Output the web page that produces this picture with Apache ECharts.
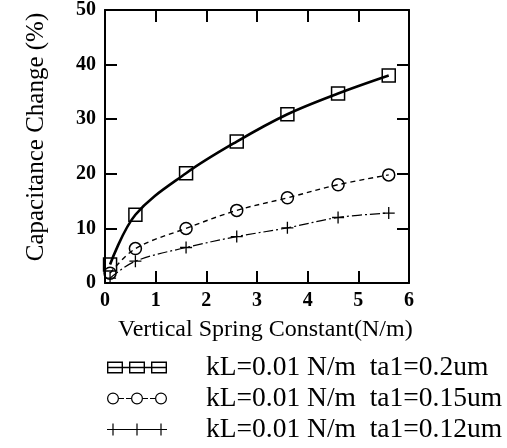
<!DOCTYPE html>
<html>
<head>
<meta charset="utf-8">
<script src="https://cdn.jsdelivr.net/npm/echarts@6/dist/echarts.min.js"></script>
<style>
html,body{margin:0;padding:0;background:#fff;}
#chart{width:507px;height:448px;}
</style>
</head>
<body>
<div id="chart"></div>
<script>
var xValues = [0.1, 0.6, 1.6, 2.6, 3.6, 4.6, 5.6];
var squareValues = [3.4, 12.5, 20.1, 25.9, 30.9, 34.7, 38.0];
var circleValues = [1.8, 6.3, 10.0, 13.3, 15.6, 18.0, 19.8];
var crossValues = [0.9, 4.0, 6.5, 8.5, 10.1, 12.0, 12.8];
var seriesNames = ['kL=0.01 N/m  ta1=0.2um', 'kL=0.01 N/m  ta1=0.15um', 'kL=0.01 N/m  ta1=0.12um'];
var xTickLabels = ['0','1','2','3','4','5','6'];
var yTickLabels = ['0','10','20','30','40','50'];
var xTitle = 'Vertical Spring Constant(N/m)';
var yTitle = 'Capacitance Change (%)';

function pairs(ys){ return xValues.map(function(x,i){ return [x, ys[i]]; }); }

var FONT = "'Liberation Serif', 'Times New Roman', 'DejaVu Serif', serif";
var chart = echarts.init(document.getElementById('chart'), null, {renderer:'canvas'});

var squareIcon = 'path://M0,5.2 H60 V6.8 H0 Z M0,0 H16 V12 H0 Z M1.4,1.4 V10.6 H14.6 V1.4 Z M22,0 H38 V12 H22 Z M23.4,1.4 V10.6 H36.6 V1.4 Z M44,0 H60 V12 H44 Z M45.4,1.4 V10.6 H58.6 V1.4 Z';
var circleIcon = 'path://M6,0 A6,6 0 1,1 5.99,0 Z M6,1.2 A4.8,4.8 0 1,0 6.01,1.2 Z M30,0 A6,6 0 1,1 29.99,0 Z M30,1.2 A4.8,4.8 0 1,0 30.01,1.2 Z M54,0 A6,6 0 1,1 53.99,0 Z M54,1.2 A4.8,4.8 0 1,0 54.01,1.2 Z M12,5.5 H17 V6.5 H12 Z M19,5.5 H24 V6.5 H19 Z M36,5.5 H41 V6.5 H36 Z M43,5.5 H48 V6.5 H43 Z';
var crossIcon = 'path://M0,5.4 H60 V6.6 H0 Z M5.4,0 H6.6 V12 H5.4 Z M29.4,0 H30.6 V12 H29.4 Z M53.4,0 H54.6 V12 H53.4 Z';

var axisLabelStyle = {fontFamily: FONT, fontSize: 20, fontWeight: 'bold', color: '#000'};

var option = {
  backgroundColor: '#fff',
  animation: false,
  grid: {left: 105, right: 98, top: 8, bottom: 165, containLabel: false},
  legend: {
    orient: 'vertical',
    left: 102,
    top: 348,
    height: 99,
    itemWidth: 60,
    itemHeight: 12,
    itemGap: 2,
    textStyle: {fontFamily: FONT, fontSize: 27.5, lineHeight: 29, color: '#000', padding: [0,0,0,34]},
    data: [
      {name: seriesNames[0], icon: squareIcon, itemStyle: {color: '#000', borderWidth: 0}},
      {name: seriesNames[1], icon: circleIcon, itemStyle: {color: '#000', borderWidth: 0}},
      {name: seriesNames[2], icon: crossIcon, itemStyle: {color: '#000', borderWidth: 0}}
    ]
  },
  xAxis: [{
    type: 'value', min: 0, max: 6, interval: 1, position: 'bottom',
    axisLine: {show: true, onZero: false, lineStyle: {color: '#000', width: 2}},
    axisTick: {show: true, inside: true, length: 12, lineStyle: {color: '#000', width: 2}},
    splitLine: {show: false},
    axisLabel: Object.assign({margin: 8, formatter: function(v){ return xTickLabels[Math.round(v)]; }}, axisLabelStyle)
  }, {
    type: 'value', min: 0, max: 6, interval: 1, position: 'top',
    axisLine: {show: true, onZero: false, lineStyle: {color: '#000', width: 2}},
    axisTick: {show: true, inside: true, length: 12, lineStyle: {color: '#000', width: 2}},
    splitLine: {show: false}, axisLabel: {show: false}
  }],
  yAxis: [{
    type: 'value', min: 0, max: 50, interval: 10, position: 'left',
    axisLine: {show: true, onZero: false, lineStyle: {color: '#000', width: 2}},
    axisTick: {show: true, inside: true, length: 12, lineStyle: {color: '#000', width: 2}},
    splitLine: {show: false},
    axisLabel: Object.assign({margin: 9, formatter: function(v){ return yTickLabels[Math.round(v/10)]; }}, axisLabelStyle)
  }, {
    type: 'value', min: 0, max: 50, interval: 10, position: 'right',
    axisLine: {show: true, onZero: false, lineStyle: {color: '#000', width: 2}},
    axisTick: {show: true, inside: true, length: 12, lineStyle: {color: '#000', width: 2}},
    splitLine: {show: false}, axisLabel: {show: false}
  }],
  graphic: [{
    type: 'text', left: 118, top: 318,
    style: {text: xTitle, fontFamily: FONT, fontSize: 24, fill: '#000'}
  }, {
    type: 'text', x: 36, y: 137, rotation: Math.PI/2,
    style: {text: yTitle, fontFamily: FONT, fontSize: 25, fill: '#000', align: 'center', verticalAlign: 'middle'}
  }],
  series: [{
    name: seriesNames[0], type: 'line', data: pairs(squareValues), smooth: 0.35,
    symbol: 'rect', symbolSize: 13,
    lineStyle: {color: '#000', width: 2.6, type: 'solid'},
    itemStyle: {color: 'rgba(0,0,0,0)', borderColor: '#000', borderWidth: 1.5}
  }, {
    name: seriesNames[1], type: 'line', data: pairs(circleValues), smooth: 0.35,
    symbol: 'circle', symbolSize: 12,
    lineStyle: {color: '#000', width: 1.4, type: [5, 4]},
    itemStyle: {color: 'rgba(0,0,0,0)', borderColor: '#000', borderWidth: 1.5}
  }, {
    name: seriesNames[2], type: 'line', data: pairs(crossValues), smooth: 0.35,
    symbol: 'path://M0,5 H10 M5,0 V10', symbolSize: 12,
    lineStyle: {color: '#000', width: 1.2, type: [10, 3, 2, 3]},
    itemStyle: {color: 'rgba(0,0,0,0)', borderColor: '#000', borderWidth: 1.3}
  }]
};
chart.setOption(option);
</script>
</body>
</html>
